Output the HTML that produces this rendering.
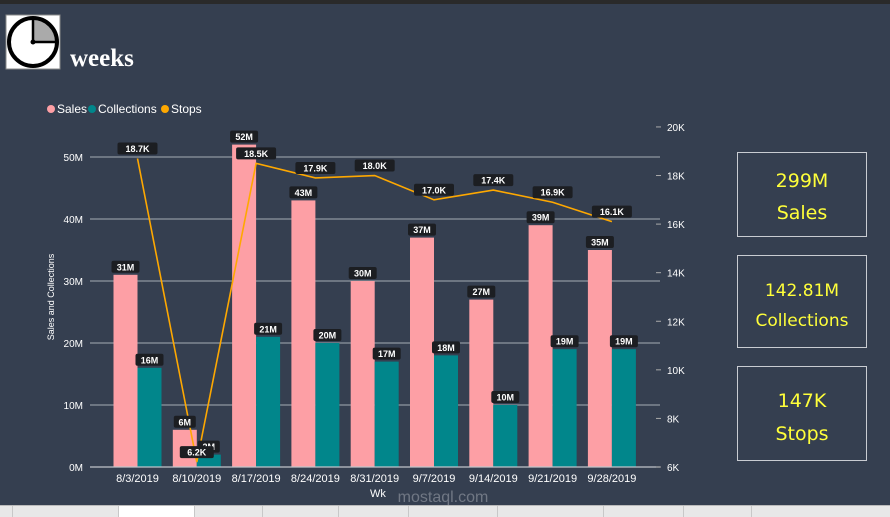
<!DOCTYPE html>
<html><head><meta charset="utf-8">
<style>
body{margin:0;width:890px;height:516px;overflow:hidden;background:#353f50;font-family:"Liberation Sans",sans-serif;}
#top{position:absolute;left:0;top:0;width:890px;height:4px;background:#2a2a2a}
#tabs{position:absolute;left:0;top:505px;width:890px;height:11px;background:#e8e8e8;border-top:1px solid #bbb}
.tab{position:absolute;top:0;height:11px;border-left:1px solid #c8c8c8}
.card{position:absolute;left:737px;width:128px;border:1px solid #c9ccd2;color:#ffff3a;text-align:center;font-family:"DejaVu Sans",sans-serif}
</style></head><body>
<div id="top"></div>
<svg width="890" height="516" style="position:absolute;left:0;top:0">
 <g>
  <rect x="6" y="15" width="54" height="54" fill="#fff" stroke="#888"/>
  <path d="M33,42 L33,18 A24,24 0 0 1 57,42 Z" fill="#aaa"/>
  <circle cx="33" cy="42" r="24" fill="none" stroke="#000" stroke-width="4"/>
  <line x1="33" y1="42" x2="33" y2="18" stroke="#000" stroke-width="2.5"/>
  <line x1="33" y1="42" x2="55" y2="42" stroke="#000" stroke-width="2.5"/>
  <circle cx="33" cy="42" r="2.5" fill="#000"/>
 </g>
 <text x="70" y="66" fill="#fff" font-family="Liberation Serif,serif" font-size="25" font-weight="bold">weeks</text>
 <g font-size="12" fill="#fff">
  <circle cx="51" cy="109" r="4" fill="#fd9fa5"/><text x="57" y="113">Sales</text>
  <circle cx="92" cy="109" r="4" fill="#01868b"/><text x="98" y="113">Collections</text>
  <circle cx="165" cy="109" r="4" fill="#fea800"/><text x="171" y="113">Stops</text>
 </g>
 <g id="grid"></g><g id="bars"></g><g id="line"></g><g id="labels"></g><g id="axes"></g>
 <text x="378" y="497" fill="#fff" font-size="11" text-anchor="middle">Wk</text>
 <text transform="translate(54,297) rotate(-90)" fill="#fff" font-size="9" text-anchor="middle">Sales and Collections</text>
 <text x="443" y="502" fill="#8a909a" font-size="16" text-anchor="middle" opacity="0.7">mostaql.com</text>
</svg>
<div class="card" style="top:152px;height:83px"><div style="font-size:19px;margin-top:17px">299M</div><div style="font-size:19px;margin-top:10px">Sales</div></div>
<div class="card" style="top:255px;height:91px"><div style="font-size:17px;margin-top:25px">142.81M</div><div style="font-size:17px;margin-top:10px">Collections</div></div>
<div class="card" style="top:366px;height:93px"><div style="font-size:19px;margin-top:23px">147K</div><div style="font-size:19px;margin-top:11px">Stops</div></div>
<div id="tabs">
 <div class="tab" style="left:12px"></div><div class="tab" style="left:118px;width:76px;background:#fff"></div><div class="tab" style="left:194px"></div><div class="tab" style="left:262px"></div><div class="tab" style="left:338px"></div><div class="tab" style="left:408px"></div><div class="tab" style="left:497px"></div><div class="tab" style="left:603px"></div><div class="tab" style="left:683px"></div><div class="tab" style="left:751px"></div>
</div>
<script>
const categories=["8/3/2019","8/10/2019","8/17/2019","8/24/2019","8/31/2019","9/7/2019","9/14/2019","9/21/2019","9/28/2019"];
const sales=[31,6,52,43,30,37,27,39,35];
const collections=[16,2,21,20,17,18,10,19,19];
const stops=[18.7,6.2,18.5,17.9,18.0,17.0,17.4,16.9,16.1];
const leftTicks=[0,10,20,30,40,50];
const rightTicks=[6,8,10,12,14,16,18,20];
const NS="http://www.w3.org/2000/svg";
const yL=v=>467-v*6.2, yR=v=>467-(v-6)*24.29, xC=i=>137.5+i*59.3;
function mk(p,t,a){const e=document.createElementNS(NS,t);for(const k in a)e.setAttribute(k,a[k]);document.getElementById(p).appendChild(e);return e;}
function label(x,y,txt,bg){const w=txt.length*6+10;
 const r=mk("labels","rect",{x:x-w/2,y:y-12,width:w,height:12,rx:2,fill:bg||"#1c1e22"});
 
 
 const t=mk("labels","text",{x:x,y:y-2.5,fill:"#fff","font-size":9,"font-weight":"bold","text-anchor":"middle"});t.textContent=txt;
 
 }
leftTicks.forEach(v=>{
 if(v>0){const g=mk("grid","line",{x1:90,x2:660,y1:yL(v),y2:yL(v),stroke:"#8f96a1","stroke-width":1.2});
 
 }
 const t=mk("axes","text",{x:83,y:yL(v)+4,fill:"#fff","font-size":10,"text-anchor":"end"});t.textContent=v+"M";
 
 
});
mk("axes","line",{x1:90,x2:660,y1:467,y2:467,stroke:"#c0c4ca","stroke-width":1.2});
rightTicks.forEach(v=>{
 mk("axes","line",{x1:656,x2:661,y1:yR(v),y2:yR(v),stroke:"#aaa"});
 const t=mk("axes","text",{x:667,y:yR(v)+4,fill:"#fff","font-size":10});t.textContent=v+"K";
 
 
});
categories.forEach((c,i)=>{
 const x=xC(i);
 const s=mk("bars","rect",{x:x-24,y:yL(sales[i]),width:24,height:467-yL(sales[i]),fill:"#fd9fa5"});
 
 
 const cb=mk("bars","rect",{x:x,y:yL(collections[i]),width:24,height:467-yL(collections[i]),fill:"#01868b"});
 
 
 const t=mk("axes","text",{x:x,y:482,fill:"#fff","font-size":11,"text-anchor":"middle"});t.textContent=c;
 
 
 label(x-12,yL(sales[i])-2,sales[i]+"M");
 label(x+12,yL(collections[i])-2,collections[i]+"M");
});
const pts=stops.map((v,i)=>xC(i)+","+yR(v)).join(" ");
const pl=mk("line","polyline",{points:pts,fill:"none",stroke:"#fea800","stroke-width":1.6});


stops.forEach((v,i)=>label(xC(i),yR(v)-4,v.toFixed(1)+"K"));
</script>
</body></html>
